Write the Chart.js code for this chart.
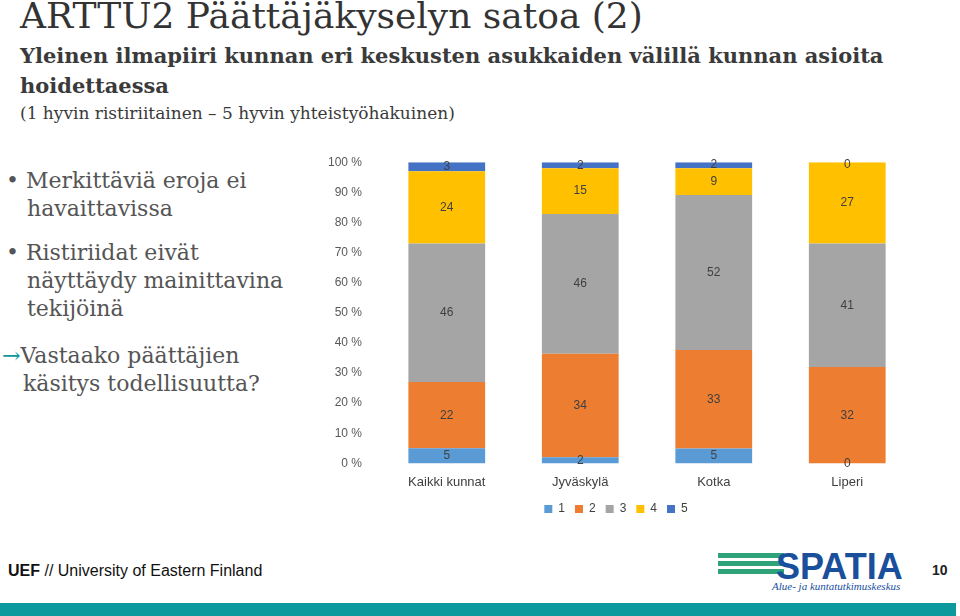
<!DOCTYPE html>
<html><head><meta charset="utf-8">
<script src="https://cdn.jsdelivr.net/npm/chart.js@4"></script>
<style>
body{margin:0;width:960px;height:616px;position:relative;background:#fff;overflow:hidden;font-family:"DejaVu Serif",serif}
.a{position:absolute;white-space:nowrap}
#t{left:20px;top:-5px;font-size:36px;color:#333}
#s{left:20px;top:41px;font-size:21px;font-weight:bold;color:#3a3a3a;line-height:30px}
#s2{left:20px;top:103px;font-size:17px;color:#3a3a3a}
.b{font-size:22px;color:#555;line-height:28px}
#f{left:8px;top:562px;font-family:"Liberation Sans",sans-serif;font-size:16px;color:#111}
#bar{left:0;top:603px;width:956px;height:13px;background:#0b999d}
.g{position:absolute;left:718px;width:66px;height:5px;background:#2ea37a}
</style></head><body>
<div class="a" id="t">ARTTU2 Päättäjäkyselyn satoa (2)</div>
<div class="a" id="s">Yleinen ilmapiiri kunnan eri keskusten asukkaiden välillä kunnan asioita<br>hoidettaessa</div>
<div class="a" id="s2">(1 hyvin ristiriitainen – 5 hyvin yhteistyöhakuinen)</div>
<div class="a b" style="left:6px;top:167px">•&nbsp;Merkittäviä eroja ei<br>&nbsp;&nbsp;&nbsp;havaittavissa</div>
<div class="a b" style="left:6px;top:239px">•&nbsp;Ristiriidat eivät<br>&nbsp;&nbsp;&nbsp;näyttäydy mainittavina<br>&nbsp;&nbsp;&nbsp;tekijöinä</div>
<div class="a b" style="left:2px;top:342px"><span style="color:#0b999d">→</span>Vastaako päättäjien<br>&nbsp;&nbsp;&nbsp;käsitys todellisuutta?</div>
<div class="a" id="f"><b>UEF</b> // University of Eastern Finland</div>
<div class="g" style="top:553px"></div><div class="g" style="top:561px"></div><div class="g" style="top:569px"></div>
<div class="a" style="left:776px;top:546px;font-family:'Liberation Sans',sans-serif;font-weight:bold;font-size:36px;color:#1a4f9c;letter-spacing:0px">SPATIA</div>
<div class="a" style="left:772px;top:580px;font-family:'Liberation Serif',serif;font-style:italic;font-size:11px;color:#1a4f9c">Alue- ja kuntatutkimuskeskus</div>
<div class="a" style="left:932px;top:562px;font-family:'Liberation Sans',sans-serif;font-weight:bold;font-size:14px;color:#222">10</div>
<div class="a" id="bar"></div>
<canvas class="a" id="c" style="left:318px;top:145px" width="640" height="380"></canvas>
<script>
const categories=["Kaikki kunnat","Jyväskylä","Kotka","Liperi"];
const s1=[5,2,5,0];
const s2=[22,34,33,32];
const s3=[46,46,52,41];
const s4=[24,15,9,27];
const s5=[3,2,2,0];
const names=["1","2","3","4","5"];
const colors=["#5B9BD5","#ED7D31","#A5A5A5","#FFC000","#4472C4"];
const series=[s1,s2,s3,s4,s5];
const totals=categories.map((_,j)=>series.reduce((a,s)=>a+s[j],0));
const lbl={id:"lbl",afterDatasetsDraw(ch){const c=ch.ctx;c.save();c.font="12px 'Liberation Sans',sans-serif";c.fillStyle="#404040";c.textAlign="center";c.textBaseline="middle";
ch.data.datasets.forEach((d,i)=>{ch.getDatasetMeta(i).data.forEach((b,j)=>{let v=series[i][j];let y=(b.y+b.base)/2;if(v===0)y=i===0?b.base:ch.chartArea.top+2;c.fillText(v,b.x,y);});});c.restore();}};
new Chart(document.getElementById("c"),{type:"bar",
data:{labels:categories,datasets:series.map((s,i)=>({label:names[i],data:s.map((v,j)=>v*100/totals[j]),backgroundColor:colors[i],categoryPercentage:1,barPercentage:0.575}))},
options:{responsive:false,animation:false,layout:{padding:{top:15,right:44}},
plugins:{legend:{position:"bottom",labels:{boxWidth:8,boxHeight:8,font:{size:12,family:"Liberation Sans"},color:"#404040"}},tooltip:{enabled:false}},
scales:{x:{stacked:true,grid:{display:false},border:{display:false},ticks:{font:{size:13,family:"Liberation Sans"},color:"#404040"}},
y:{stacked:true,min:0,max:100,grid:{display:false},border:{display:false},ticks:{stepSize:10,callback:v=>v+" %",font:{size:12,family:"Liberation Sans"},color:"#595959",padding:10}}}},
plugins:[lbl]});
</script></body></html>
